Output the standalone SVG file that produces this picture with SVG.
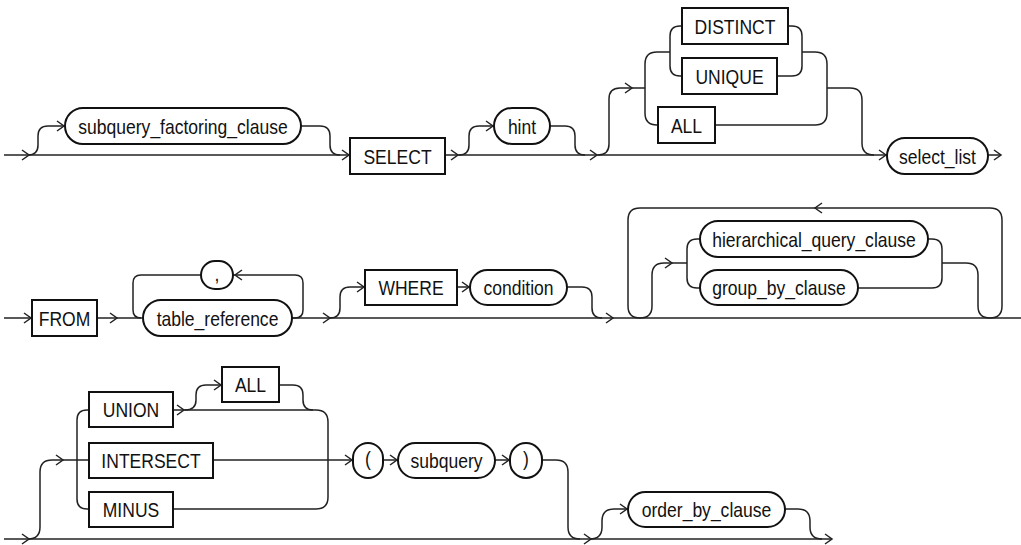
<svg xmlns="http://www.w3.org/2000/svg" width="1021" height="545" viewBox="0 0 1021 545">
<style>
.ln{fill:none;stroke:#222;stroke-width:1.5}
.bx{fill:#fff;stroke:#111;stroke-width:2}
.tx{font-family:"Liberation Sans",Arial,sans-serif;font-size:21px;fill:#111;text-anchor:middle}
</style>
<defs>
<path id="ar" d="M-7,-5 L0,0 L-7,5" fill="none" stroke="#222" stroke-width="1.5"/>
<path id="al" d="M7,-5 L0,0 L7,5" fill="none" stroke="#222" stroke-width="1.5"/>
</defs>
<rect width="1021" height="545" fill="#fff"/>
<g id="connectors">
<path class="ln" d="M4 155 H350"/>
<path class="ln" d="M28 155 Q38 155 38 145 V136 Q38 126 48 126 H65"/>
<path class="ln" d="M301 126 H320 Q330 126 330 136 V145 Q330 155 340 155"/>
<path class="ln" d="M445 155 H887"/>
<path class="ln" d="M459 155 Q469 155 469 145 V136 Q469 126 479 126 H494"/>
<path class="ln" d="M550 126 H565 Q575 126 575 136 V145 Q575 155 585 155"/>
<path class="ln" d="M598 155 Q609 155 609 144 V99 Q609 88 620 88 H645"/>
<path class="ln" d="M670 52 H657 Q645 52 645 64 V113 Q645 125 657 125 H658"/>
<path class="ln" d="M682 26 H680 Q670 26 670 36 V66 Q670 76 680 76 H682"/>
<path class="ln" d="M788 26 H792 Q802 26 802 36 V66 Q802 76 792 76 H777"/>
<path class="ln" d="M802 52 H815 Q827 52 827 64 V113 Q827 125 815 125 H715"/>
<path class="ln" d="M827 88 H850 Q862 88 862 100 V143 Q862 155 874 155"/>
<path class="ln" d="M988 155 H1001"/>
<use href="#ar" x="29" y="155"/>
<use href="#ar" x="64" y="126"/>
<use href="#ar" x="349" y="155"/>
<use href="#ar" x="458" y="155"/>
<use href="#ar" x="493" y="126"/>
<use href="#ar" x="597" y="155"/>
<use href="#ar" x="632" y="88"/>
<use href="#ar" x="886" y="155"/>
<use href="#ar" x="1001" y="155"/>
<path class="ln" d="M4 318 H32"/>
<path class="ln" d="M97 318 H143"/>
<path class="ln" d="M292 318 H1021"/>
<path class="ln" d="M201 275 H141 Q133 275 133 283 V310 Q133 318 141 318"/>
<path class="ln" d="M292 318 H295 Q303 318 303 310 V283 Q303 275 295 275 H233"/>
<path class="ln" d="M330 318 Q340 318 340 308 V297 Q340 287 350 287 H365"/>
<path class="ln" d="M457 287 H470"/>
<path class="ln" d="M567 287 H582 Q592 287 592 297 V308 Q592 318 602 318"/>
<path class="ln" d="M640 318 Q628 318 628 306 V220 Q628 208 640 208 H990 Q1002 208 1002 220 V306 Q1002 318 990 318"/>
<path class="ln" d="M640 318 Q652 318 652 306 V275 Q652 263 664 263 H687"/>
<path class="ln" d="M700 239 H697 Q687 239 687 249 V278 Q687 288 697 288 H700"/>
<path class="ln" d="M928 239 H932 Q942 239 942 249 V278 Q942 288 932 288 H858"/>
<path class="ln" d="M942 263 H966 Q978 263 978 275 V306 Q978 318 990 318"/>
<use href="#ar" x="31" y="318"/>
<use href="#ar" x="117" y="318"/>
<use href="#al" x="235" y="275"/>
<use href="#ar" x="330" y="318"/>
<use href="#ar" x="364" y="287"/>
<use href="#ar" x="469" y="287"/>
<use href="#ar" x="613" y="318"/>
<use href="#ar" x="672" y="263"/>
<use href="#al" x="815" y="208"/>
<path class="ln" d="M4 539 H832"/>
<path class="ln" d="M28 539 Q40 539 40 527 V472 Q40 460 52 460 H89"/>
<path class="ln" d="M89 410 H87 Q77 410 77 420 V499 Q77 509 87 509 H89"/>
<path class="ln" d="M173 410 H316 Q328 410 328 422 V497 Q328 509 316 509 H173"/>
<path class="ln" d="M185 410 Q196 410 196 400 V395 Q196 385 206 385 H222"/>
<path class="ln" d="M279 385 H293 Q303 385 303 395 V400 Q303 410 313 410"/>
<path class="ln" d="M213 460 H353"/>
<path class="ln" d="M383 460 H398"/>
<path class="ln" d="M495 460 H510"/>
<path class="ln" d="M542 460 H556 Q568 460 568 472 V527 Q568 539 580 539"/>
<path class="ln" d="M590 539 Q602 539 602 527 V521 Q602 509 614 509 H628"/>
<path class="ln" d="M785 509 H798 Q810 509 810 521 V527 Q810 539 822 539"/>
<use href="#ar" x="29" y="539"/>
<use href="#ar" x="63" y="460"/>
<use href="#ar" x="184" y="410"/>
<use href="#ar" x="221" y="385"/>
<use href="#ar" x="352" y="460"/>
<use href="#ar" x="397" y="460"/>
<use href="#ar" x="509" y="460"/>
<use href="#ar" x="591" y="539"/>
<use href="#ar" x="627" y="509"/>
<use href="#ar" x="832" y="539"/>
</g>
<g id="subquery_factoring_clause"><rect class="bx" x="65" y="108" width="236" height="36" rx="18"/><text class="tx" transform="translate(183 133.5) scale(0.835 1)">subquery_factoring_clause</text></g>
<g id="SELECT"><rect class="bx" x="350" y="138" width="95" height="36"/><text class="tx" transform="translate(397.5 163.5) scale(0.835 1)">SELECT</text></g>
<g id="hint"><rect class="bx" x="494" y="108" width="56" height="36" rx="18"/><text class="tx" transform="translate(522 133.5) scale(0.835 1)">hint</text></g>
<g id="DISTINCT"><rect class="bx" x="682" y="8" width="106" height="36"/><text class="tx" transform="translate(735 33.5) scale(0.835 1)">DISTINCT</text></g>
<g id="UNIQUE"><rect class="bx" x="682" y="58" width="95" height="36"/><text class="tx" transform="translate(729.5 83.5) scale(0.835 1)">UNIQUE</text></g>
<g id="ALL1"><rect class="bx" x="658" y="107" width="57" height="36"/><text class="tx" transform="translate(686.5 132.5) scale(0.835 1)">ALL</text></g>
<g id="select_list"><rect class="bx" x="887" y="138" width="101" height="36" rx="18"/><text class="tx" transform="translate(937.5 163.5) scale(0.835 1)">select_list</text></g>
<g id="FROM"><rect class="bx" x="32" y="300" width="65" height="36"/><text class="tx" transform="translate(64.5 325.5) scale(0.835 1)">FROM</text></g>
<g id="table_reference"><rect class="bx" x="143" y="300" width="149" height="36" rx="18"/><text class="tx" transform="translate(217.5 325.5) scale(0.835 1)">table_reference</text></g>
<g id="comma"><rect class="bx" x="201" y="261" width="32" height="28" rx="14"/><text class="tx" transform="translate(217 281) scale(0.835 1)">,</text></g>
<g id="WHERE"><rect class="bx" x="365" y="270" width="92" height="35"/><text class="tx" transform="translate(411 295) scale(0.835 1)">WHERE</text></g>
<g id="condition"><rect class="bx" x="470" y="270" width="97" height="35" rx="17.5"/><text class="tx" transform="translate(518.5 295) scale(0.835 1)">condition</text></g>
<g id="hierarchical_query_clause"><rect class="bx" x="700" y="221" width="228" height="36" rx="18"/><text class="tx" transform="translate(814 246.5) scale(0.835 1)">hierarchical_query_clause</text></g>
<g id="group_by_clause"><rect class="bx" x="700" y="270" width="158" height="35" rx="17.5"/><text class="tx" transform="translate(779 295) scale(0.835 1)">group_by_clause</text></g>
<g id="UNION"><rect class="bx" x="89" y="392" width="84" height="35"/><text class="tx" transform="translate(131 417) scale(0.835 1)">UNION</text></g>
<g id="ALL2"><rect class="bx" x="222" y="367" width="57" height="35"/><text class="tx" transform="translate(250.5 392) scale(0.835 1)">ALL</text></g>
<g id="INTERSECT"><rect class="bx" x="89" y="443" width="124" height="35"/><text class="tx" transform="translate(151 468) scale(0.835 1)">INTERSECT</text></g>
<g id="MINUS"><rect class="bx" x="89" y="492" width="84" height="35"/><text class="tx" transform="translate(131 517) scale(0.835 1)">MINUS</text></g>
<g id="lparen"><rect class="bx" x="353" y="443" width="30" height="35" rx="15"/><text class="tx" transform="translate(368 466) scale(0.835 1)">(</text></g>
<g id="subquery"><rect class="bx" x="398" y="443" width="97" height="35" rx="17.5"/><text class="tx" transform="translate(446.5 468) scale(0.835 1)">subquery</text></g>
<g id="rparen"><rect class="bx" x="510" y="443" width="32" height="35" rx="16"/><text class="tx" transform="translate(526 466) scale(0.835 1)">)</text></g>
<g id="order_by_clause"><rect class="bx" x="628" y="492" width="157" height="35" rx="17.5"/><text class="tx" transform="translate(706.5 517) scale(0.835 1)">order_by_clause</text></g>
</svg>
